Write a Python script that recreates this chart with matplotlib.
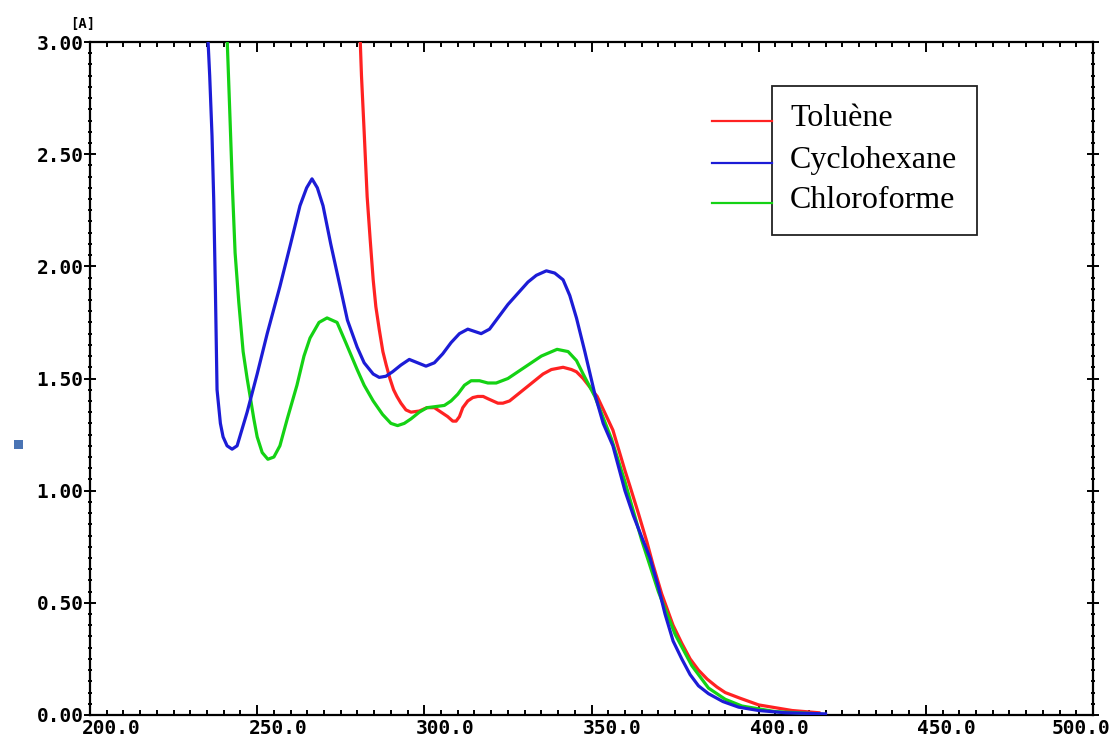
import matplotlib
matplotlib.use("Agg")
import matplotlib.pyplot as plt
import matplotlib.transforms as mtransforms
from matplotlib.patches import Rectangle
from matplotlib.lines import Line2D
from matplotlib.ticker import MultipleLocator

# wavelength (nm) / absorbance
cyclo_x = [235.0, 235.8, 236.5, 237.0, 237.5, 238.0, 239.0, 239.8, 241.0, 242.5, 244.0,
           247.0, 250.0, 253.0, 256.8, 260.0, 262.8, 264.8, 266.4, 268.0, 269.7,
           272.0, 274.8, 277.0, 279.9, 282.0, 284.7, 286.5, 288.5, 290.5, 293.0,
           295.5, 298.0, 300.5, 303.0, 305.5, 308.0, 310.5, 313.0, 315.0, 317.0,
           319.5, 322.0, 325.0, 328.0, 331.0, 333.5, 336.5, 339.0, 341.5, 343.5,
           345.5, 348.0, 351.0, 353.5, 356.4, 360.0, 362.5, 365.1, 367.5, 370.0,
           372.0, 374.4, 377.0, 379.5, 382.0, 385.0, 389.3, 394.0, 400.0, 408.0, 420.0]
cyclo_y = [3.10, 2.85, 2.58, 2.30, 1.90, 1.45, 1.30, 1.24, 1.20, 1.185, 1.20,
           1.35, 1.52, 1.70, 1.91, 2.10, 2.27, 2.35, 2.39, 2.35, 2.27,
           2.10, 1.91, 1.76, 1.64, 1.57, 1.52, 1.505, 1.51, 1.53, 1.56,
           1.585, 1.57, 1.555, 1.57, 1.61, 1.66, 1.70, 1.72, 1.71, 1.70,
           1.72, 1.77, 1.83, 1.88, 1.93, 1.96, 1.98, 1.97, 1.94, 1.87,
           1.77, 1.62, 1.43, 1.30, 1.20, 1.00, 0.89, 0.79, 0.70, 0.57,
           0.45, 0.33, 0.25, 0.18, 0.13, 0.095, 0.06, 0.035, 0.02, 0.01, 0.005]

chloro_x = [240.8, 241.3, 241.9, 242.6, 243.4, 244.5, 245.8, 247.0, 247.9, 249.0, 250.0,
            251.5, 253.2, 255.0, 256.8, 259.0, 261.9, 264.0, 265.8, 268.5, 270.9,
            273.9, 276.5, 279.9, 282.0, 284.7, 287.5, 290.0, 292.0, 294.0, 296.0,
            298.5, 300.8, 303.5, 306.0, 308.0, 310.0, 312.0, 314.0, 316.5, 319.0,
            321.5, 325.0, 330.0, 335.0, 339.7, 343.0, 345.5, 347.5, 351.0, 356.0,
            360.0, 365.0, 370.0, 375.0, 380.0, 385.0, 390.0, 395.0, 405.0, 418.0]
chloro_y = [3.10, 2.90, 2.65, 2.35, 2.06, 1.84, 1.62, 1.50, 1.42, 1.32, 1.24,
            1.17, 1.14, 1.15, 1.20, 1.32, 1.47, 1.60, 1.68, 1.75, 1.77,
            1.75, 1.66, 1.54, 1.47, 1.40, 1.34, 1.30, 1.29, 1.30, 1.32,
            1.35, 1.37, 1.375, 1.38, 1.40, 1.43, 1.47, 1.49, 1.49, 1.48,
            1.48, 1.50, 1.55, 1.60, 1.63, 1.62, 1.58, 1.52, 1.42, 1.23,
            1.04, 0.78, 0.55, 0.36, 0.22, 0.12, 0.07, 0.04, 0.015, 0.005]

tol_x = [280.6, 281.2, 282.0, 282.9, 283.8, 284.7, 285.5, 286.5, 287.6, 288.6, 289.7,
         290.8, 291.8, 293.0, 294.5, 296.0, 298.5, 300.8, 303.0, 305.0, 307.0,
         308.5, 309.5, 310.5, 311.5, 313.0, 314.5, 316.0, 317.6, 319.0, 320.5,
         322.0, 323.5, 325.5, 328.0, 330.5, 333.0, 335.5, 338.0, 341.5, 344.0,
         345.5, 347.5, 351.7, 356.4, 360.0, 361.5, 364.0, 366.6, 368.4, 371.0,
         374.4, 377.0, 379.5, 382.0, 384.6, 387.5, 390.0, 394.4, 400.0, 410.0, 418.0]
tol_y = [3.10, 2.85, 2.60, 2.31, 2.12, 1.94, 1.82, 1.72, 1.62, 1.56, 1.50,
         1.45, 1.42, 1.39, 1.36, 1.35, 1.355, 1.37, 1.37, 1.35, 1.33,
         1.31, 1.31, 1.33, 1.37, 1.40, 1.415, 1.42, 1.42, 1.41, 1.40,
         1.39, 1.39, 1.40, 1.43, 1.46, 1.49, 1.52, 1.54, 1.55, 1.54,
         1.53, 1.50, 1.42, 1.27, 1.09, 1.02, 0.90, 0.77, 0.67, 0.54,
         0.40, 0.32, 0.25, 0.20, 0.16, 0.125, 0.10, 0.075, 0.045, 0.02, 0.01]

labels = ["Toluène", "Cyclohexane", "Chloroforme"]
colors = ["#ff2222", "#1c1cd6", "#14d214"]
xticks = [200, 250, 300, 350, 400, 450, 500]
yticks = [0.0, 0.5, 1.0, 1.5, 2.0, 2.5, 3.0]

fig = plt.figure(figsize=(11.2, 7.44), dpi=100)
ax = fig.add_axes([90 / 1120, 1 - 715 / 744, 1003 / 1120, 673 / 744])

ax.plot(tol_x, tol_y, color=colors[0], lw=2.3, zorder=3)
ax.plot(chloro_x, chloro_y, color=colors[2], lw=2.3, zorder=3)
ax.plot(cyclo_x, cyclo_y, color=colors[1], lw=2.3, zorder=4)

ax.set_xlim(200, 500)
ax.set_ylim(0, 3)
ax.set_xticks(xticks, [f"{v:.1f}" for v in xticks])
ax.set_yticks(yticks, [f"{v:.2f}" for v in yticks])
ax.xaxis.set_minor_locator(MultipleLocator(5))
ax.yaxis.set_minor_locator(MultipleLocator(0.05))

for s in ax.spines.values():
    s.set_linewidth(1.6)
ax.tick_params(axis="x", which="major", direction="in", length=7, width=1.4,
               top=True, pad=3)
ax.tick_params(axis="x", which="minor", direction="in", length=3.5, width=1.4, top=True)
ax.tick_params(axis="y", which="major", direction="inout", length=9, width=1.4,
               right=True, pad=0)
ax.tick_params(axis="y", which="minor", direction="inout", length=3.5, width=1.4, right=True)

for lab in ax.get_xticklabels() + ax.get_yticklabels():
    lab.set_fontfamily("DejaVu Sans Mono")
    lab.set_fontweight("bold")
    lab.set_fontsize(14)

# x labels in the original sit a bit right of their ticks (last one kept inside)
xlabs = ax.get_xticklabels()
for i, lab in enumerate(xlabs):
    dx = 21 if i < len(xlabs) - 1 else -12
    shift = mtransforms.ScaledTranslation(dx / 100, 0, fig.dpi_scale_trans)
    lab.set_transform(lab.get_transform() + shift)

fig.text(83 / 1120, 1 - 24 / 744, "[A]", family="DejaVu Sans Mono", weight="bold",
         fontsize=10, ha="center", va="center")

# legend box drawn by hand: sample lines stick out to the left of the frame
ax.add_patch(Rectangle((0.680, 0.713), 0.204, 0.222, transform=ax.transAxes,
                       facecolor="white", edgecolor="#222222", lw=1.3, zorder=5))
for i, (lab, col) in enumerate(zip(labels, colors)):
    yy = [0.883, 0.820, 0.761][i]
    ax.add_line(Line2D([0.620, 0.680], [yy, yy], transform=ax.transAxes,
                       color=col, lw=1.6, zorder=5))
    ax.text(0.698, yy + 0.004, lab, transform=ax.transAxes, family="Liberation Serif",
            fontsize=23, va="center", ha="left", zorder=6)

# small stray blue square at the left edge of the original image
fig.patches.append(Rectangle((14 / 1120, 1 - 449 / 744), 9 / 1120, 9 / 744,
                             transform=fig.transFigure, facecolor="#4a74b4",
                             edgecolor="none"))

fig.savefig("out.png", dpi=100)
